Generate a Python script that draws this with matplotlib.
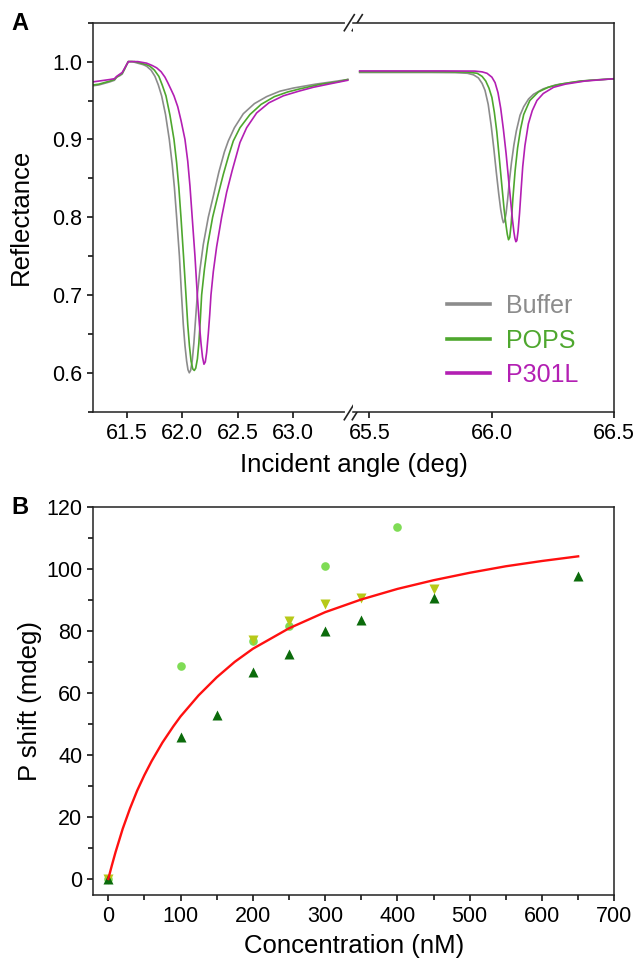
import matplotlib
matplotlib.use('Agg')
import matplotlib.pyplot as plt
from matplotlib.ticker import MultipleLocator, FormatStrFormatter

plt.rcParams['font.family'] = ['Liberation Sans', 'DejaVu Sans']

# ---- panel A data ----
# left part of the angle axis
ang_buffer_l = [61.20, 61.25, 61.30, 61.35, 61.39, 61.41, 61.44, 61.46, 61.48, 61.50,
                61.515, 61.55, 61.60, 61.65, 61.68, 61.72, 61.755, 61.785, 61.815, 61.85,
                61.884, 61.91, 61.93, 61.95, 61.975, 61.994, 62.01, 62.025, 62.04, 62.052,
                62.064, 62.076, 62.09, 62.105, 62.12, 62.136, 62.16, 62.19, 62.235, 62.28,
                62.33, 62.38, 62.415, 62.47, 62.55, 62.65, 62.76, 62.88, 63.00, 63.20,
                63.35, 63.49]
ref_buffer_l = [0.969, 0.970, 0.972, 0.974, 0.976, 0.980, 0.982, 0.984, 0.990, 0.996,
                1.000, 1.000, 0.998, 0.996, 0.994, 0.989, 0.981, 0.970, 0.956, 0.932,
                0.900, 0.868, 0.838, 0.800, 0.750, 0.700, 0.662, 0.635, 0.615, 0.604,
                0.600, 0.603, 0.615, 0.638, 0.668, 0.700, 0.733, 0.765, 0.800, 0.827,
                0.858, 0.884, 0.898, 0.915, 0.933, 0.946, 0.955, 0.962, 0.966, 0.971,
                0.974, 0.977]

ang_pops_l = [61.20, 61.25, 61.30, 61.35, 61.39, 61.41, 61.44, 61.46, 61.48, 61.50,
              61.515, 61.57, 61.63, 61.68, 61.71, 61.75, 61.79, 61.82, 61.854, 61.89,
              61.926, 61.95, 61.97, 61.989, 62.012, 62.034, 62.05, 62.065, 62.08, 62.095,
              62.109, 62.122, 62.137, 62.15, 62.163, 62.175, 62.20, 62.23, 62.274, 62.32,
              62.37, 62.42, 62.46, 62.52, 62.61, 62.71, 62.83, 62.95, 63.06, 63.25,
              63.40, 63.49]
ref_pops_l = [0.970, 0.971, 0.973, 0.975, 0.977, 0.980, 0.983, 0.985, 0.990, 0.996,
              1.000, 1.000, 0.998, 0.996, 0.994, 0.989, 0.981, 0.970, 0.956, 0.931,
              0.900, 0.870, 0.838, 0.800, 0.750, 0.700, 0.662, 0.635, 0.615, 0.605,
              0.603, 0.606, 0.618, 0.638, 0.668, 0.700, 0.733, 0.765, 0.800, 0.827,
              0.855, 0.880, 0.898, 0.915, 0.932, 0.945, 0.955, 0.961, 0.965, 0.971,
              0.974, 0.977]

ang_p301l_l = [61.20, 61.25, 61.30, 61.35, 61.39, 61.41, 61.44, 61.46, 61.48, 61.50,
               61.515, 61.60, 61.68, 61.73, 61.77, 61.81, 61.845, 61.87, 61.90, 61.926,
               61.96, 61.99, 62.025, 62.05, 62.07, 62.09, 62.115, 62.136, 62.155, 62.17,
               62.183, 62.196, 62.208, 62.22, 62.235, 62.248, 62.259, 62.28, 62.31, 62.355,
               62.40, 62.45, 62.52, 62.58, 62.67, 62.78, 62.91, 63.05, 63.18, 63.35,
               63.49]
ref_p301l_l = [0.974, 0.975, 0.976, 0.977, 0.978, 0.981, 0.984, 0.986, 0.991, 0.996,
               1.000, 1.000, 0.998, 0.995, 0.992, 0.987, 0.980, 0.973, 0.964, 0.956,
               0.942, 0.924, 0.900, 0.872, 0.840, 0.800, 0.750, 0.700, 0.662, 0.637,
               0.620, 0.611, 0.614, 0.626, 0.650, 0.675, 0.700, 0.730, 0.762, 0.800,
               0.832, 0.860, 0.896, 0.915, 0.934, 0.947, 0.956, 0.962, 0.967, 0.972,
               0.976]

# right part of the angle axis
ang_buffer_r = [65.46, 65.60, 65.75, 65.85, 65.90, 65.925, 65.945, 65.96, 65.972, 65.985,
                65.997, 66.008, 66.018, 66.028, 66.036, 66.042, 66.047, 66.052, 66.058,
                66.064, 66.072, 66.08, 66.09, 66.10, 66.115, 66.13, 66.15, 66.17, 66.21,
                66.26, 66.32, 66.40, 66.50]
ref_buffer_r = [0.986, 0.986, 0.986, 0.9858, 0.985, 0.983, 0.979, 0.972, 0.963, 0.945,
                0.918, 0.888, 0.858, 0.830, 0.810, 0.799, 0.793, 0.795, 0.805,
                0.822, 0.848, 0.870, 0.893, 0.911, 0.931, 0.942, 0.952, 0.958, 0.965,
                0.970, 0.973, 0.976, 0.978]

ang_pops_r = [65.46, 65.60, 65.80, 65.90, 65.94, 65.96, 65.975, 65.988, 66.00, 66.01,
              66.02, 66.03, 66.04, 66.05, 66.058, 66.063, 66.068, 66.073, 66.079, 66.086,
              66.095, 66.105, 66.117, 66.13, 66.155, 66.19, 66.23, 66.28, 66.36, 66.50]
ref_pops_r = [0.987, 0.987, 0.987, 0.9865, 0.985, 0.981, 0.975, 0.966, 0.954, 0.935,
              0.910, 0.877, 0.843, 0.810, 0.789, 0.778, 0.771, 0.774, 0.792, 0.825,
              0.860, 0.889, 0.913, 0.932, 0.950, 0.961, 0.967, 0.971, 0.975, 0.978]

ang_p301l_r = [65.46, 65.60, 65.80, 65.93, 65.96, 65.98, 66.00, 66.013, 66.025, 66.036,
               66.047, 66.058, 66.068, 66.077, 66.084, 66.09, 66.094, 66.098, 66.102,
               66.107, 66.113, 66.12, 66.126, 66.135, 66.149, 66.165, 66.184, 66.21,
               66.252, 66.30, 66.38, 66.50]
ref_p301l_r = [0.988, 0.988, 0.988, 0.9878, 0.9868, 0.985, 0.980, 0.973, 0.960, 0.940,
               0.913, 0.882, 0.849, 0.820, 0.797, 0.781, 0.773, 0.7685, 0.770,
               0.782, 0.805, 0.838, 0.865, 0.892, 0.920, 0.937, 0.950, 0.959,
               0.967, 0.971, 0.975, 0.978]

series_names = ['Buffer', 'POPS', 'P301L']
series_colors = ['#8c8c8c', '#4ea72e', '#b31fb3']

# ---- panel B data ----
conc_up = [0, 100, 150, 200, 250, 300, 350, 450, 650]
shift_up = [0, 45.8, 52.9, 66.7, 72.6, 80.0, 83.6, 90.7, 97.8]
conc_circ = [0, 100, 200, 250, 300, 400]
shift_circ = [0, 68.7, 76.6, 81.6, 101.0, 113.3]
conc_down = [0, 200, 250, 300, 350, 450]
shift_down = [0, 77.0, 83.2, 88.5, 90.7, 93.5]
fit_conc = [0, 5, 10, 20, 30, 40, 50, 60, 75, 90, 100, 125, 150, 175, 200, 250, 300,
            350, 400, 450, 500, 550, 600, 650]
fit_shift = [0, 4.4, 8.6, 16.2, 22.7, 28.5, 33.5, 38.0, 44.0, 49.2, 52.4, 59.2, 65.0,
             70.0, 74.2, 80.8, 86.0, 90.1, 93.5, 96.3, 98.7, 100.8, 102.5, 104.0]

W, H = 636.0, 959.0
fig = plt.figure(figsize=(W / 100, H / 100), dpi=100)

def fx(px):
    return px / W

def fy(px):
    return 1 - px / H

tick_fs = 15.5
lab_fs = 18.5
spine_c = '#222222'

# panel A, two halves of a broken axis
a_left, a_break, a_right, a_top, a_bot = 93.3, 353.3, 614.3, 22.7, 411.7
ax1 = fig.add_axes([fx(a_left), fy(a_bot), (a_break - a_left) / W, (a_bot - a_top) / H])
ax2 = fig.add_axes([fx(a_break), fy(a_bot), (a_right - a_break) / W, (a_bot - a_top) / H])

left_sets = [(ang_buffer_l, ref_buffer_l), (ang_pops_l, ref_pops_l), (ang_p301l_l, ref_p301l_l)]
right_sets = [(ang_buffer_r, ref_buffer_r), (ang_pops_r, ref_pops_r), (ang_p301l_r, ref_p301l_r)]
for (xs, ys), c in zip(left_sets, series_colors):
    ax1.plot(xs, ys, color=c, lw=1.2, solid_joinstyle='round')
for (xs, ys), c, n in zip(right_sets, series_colors, series_names):
    ax2.plot(xs, ys, color=c, lw=1.2, label=n, solid_joinstyle='round')

ax1.set_xlim(61.2, 63.54)
ax2.set_xlim(65.434, 66.5)
for ax in (ax1, ax2):
    ax.set_ylim(0.55, 1.05)
    for s in ax.spines.values():
        s.set_linewidth(1.1)
        s.set_color(spine_c)
    ax.xaxis.set_major_formatter(FormatStrFormatter('%.1f'))
    ax.tick_params(labelsize=tick_fs, width=1.1, length=4.5, direction='out')
ax1.set_xticks([61.5, 62.0, 62.5, 63.0])
ax2.set_xticks([65.5, 66.0, 66.5])
ax1.spines['right'].set_visible(False)
ax2.spines['left'].set_visible(False)
ax2.tick_params(axis='y', left=False, labelleft=False)
ax1.yaxis.set_major_locator(MultipleLocator(0.1))
ax1.yaxis.set_minor_locator(MultipleLocator(0.05))
ax1.yaxis.set_major_formatter(FormatStrFormatter('%.1f'))
ax1.tick_params(axis='y', which='minor', width=1.1, length=3.5)

leg = ax2.legend(loc='center left', bbox_to_anchor=(0.313, 0.183), frameon=False,
                 fontsize=18, handlelength=1.7, handletextpad=0.65, labelspacing=0.42,
                 borderpad=0, labelcolor='linecolor')
for h in leg.get_lines():
    h.set_linewidth(2.6)

# break marks
bw = a_break - a_left
bh = a_bot - a_top
for yy in (0, 1):
    ax1.plot([1 - 6 / bw, 1 + 8 / bw], [yy, yy], transform=ax1.transAxes, color='white',
             lw=3, clip_on=False, zorder=10)
    for off in (-4, 4):
        ax1.plot([1 + (off - 5) / bw, 1 + (off + 5) / bw], [yy - 8 / bh, yy + 8 / bh],
                 transform=ax1.transAxes, color=spine_c, lw=1.2, clip_on=False, zorder=11)

fig.text(fx(21), fy(217), 'Reflectance', rotation=90, ha='center', va='center', fontsize=lab_fs)
fig.text(fx(354), fy(465), 'Incident angle (deg)', ha='center', va='center', fontsize=lab_fs)
fig.text(fx(20), fy(23.5), 'A', ha='center', va='center', fontsize=17, fontweight='bold')

# panel B
b_top, b_bot = 506.7, 894.5
axb = fig.add_axes([fx(a_left), fy(b_bot), (a_right - a_left) / W, (b_bot - b_top) / H])
axb.plot(conc_circ, shift_circ, 'o', color='#7fdc55', ms=6.2, mec='none')
axb.plot(conc_down, shift_down, 'v', color='#b7c918', ms=7, mec='none')
axb.plot(conc_up, shift_up, '^', color='#0b6b0b', ms=7, mec='none')
axb.plot(fit_conc, fit_shift, color='#ff1010', lw=1.7)
axb.set_xlim(-20.7, 700)
axb.set_ylim(-5, 120)
axb.xaxis.set_major_locator(MultipleLocator(100))
axb.xaxis.set_minor_locator(MultipleLocator(50))
axb.yaxis.set_major_locator(MultipleLocator(20))
axb.yaxis.set_minor_locator(MultipleLocator(10))
for s in axb.spines.values():
    s.set_linewidth(1.1)
    s.set_color(spine_c)
axb.tick_params(labelsize=tick_fs, width=1.1, length=4.5, direction='out')
axb.tick_params(which='minor', width=1.1, length=3.5)

fig.text(fx(30.5), fy(701), 'P shift (mdeg)', rotation=90, ha='center', va='center', fontsize=lab_fs)
fig.text(fx(354), fy(946), 'Concentration (nM)', ha='center', va='center', fontsize=lab_fs)
fig.text(fx(20), fy(507), 'B', ha='center', va='center', fontsize=17, fontweight='bold')

fig.savefig('out.png', dpi=100)
